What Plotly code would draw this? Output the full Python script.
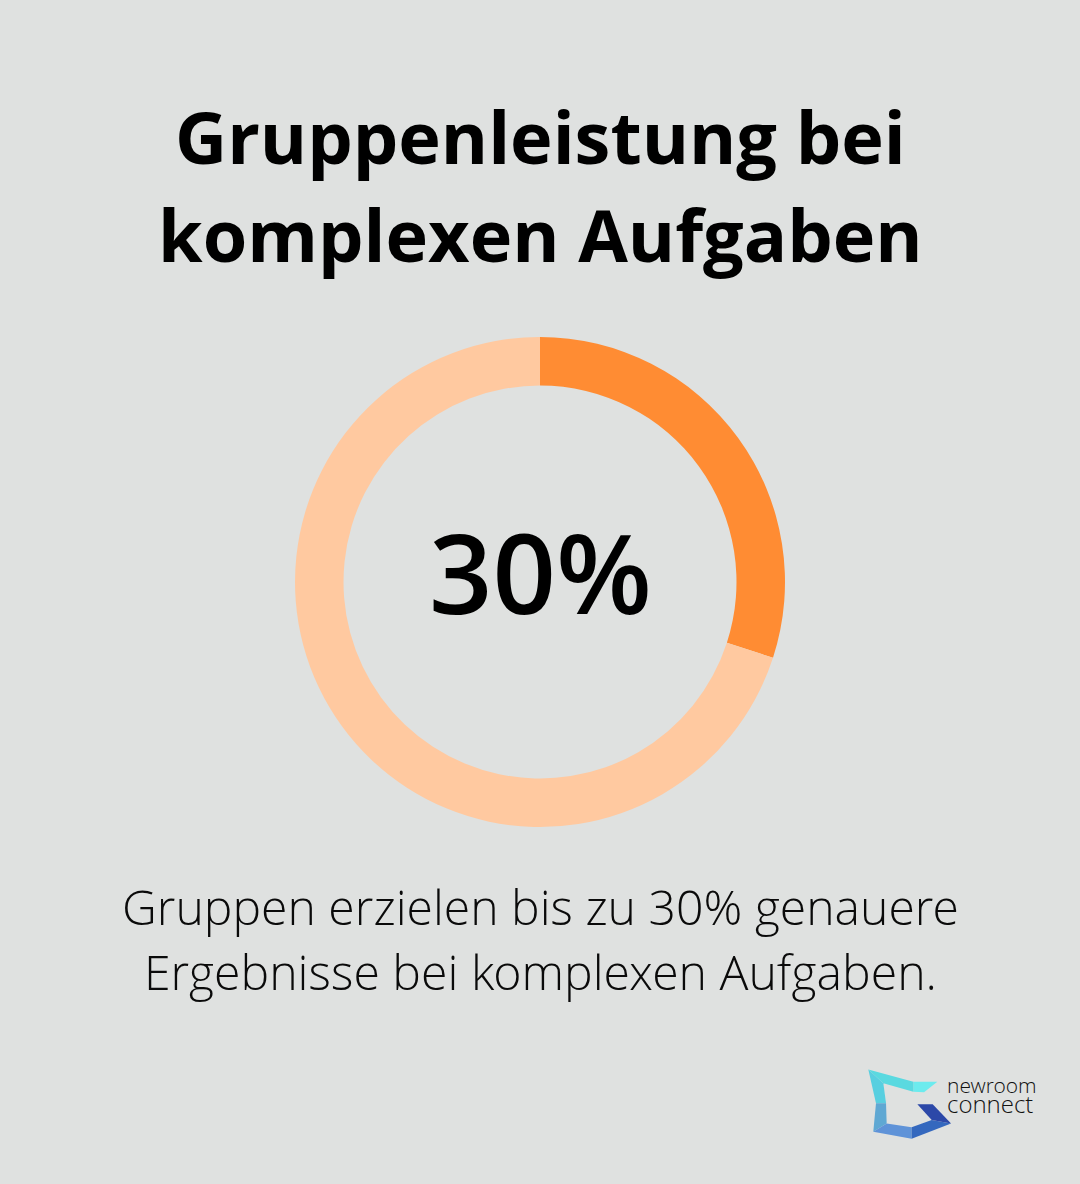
import plotly.graph_objects as go

labels = ["Genauere Ergebnisse", "Rest"]
values = [30, 70]
colors = ["#FF8C33", "#FFC9A0"]
title_lines = ["Gruppenleistung bei", "komplexen Aufgaben"]
center = "30%"
caption = ["Gruppen erzielen bis zu 30% genauere", "Ergebnisse bei komplexen Aufgaben."]
W, H = 1080, 1184

fig = go.Figure(go.Pie(labels=labels, values=values, hole=0.802, sort=False, direction="clockwise",
    rotation=0, marker=dict(colors=colors, line=dict(width=0)), textinfo="none", showlegend=False,
    domain=dict(x=[295/W, 785/W], y=[1-827/H, 1-337/H])))

def txt(s, x, y, size, fam, color="#000000", anchor="center", weight=None):
    f = dict(size=size, family=fam, color=color)
    if weight:
        f["weight"] = weight
    fig.add_annotation(text=s, x=x/W, y=1-y/H, xref="paper", yref="paper", showarrow=False,
        font=f, xanchor=anchor, yanchor="middle")

bold = "Open Sans"
txt("<b>%s</b>" % title_lines[0], 540, 136, 72, bold)
txt("<b>%s</b>" % title_lines[1], 540, 234, 72, bold)
txt(center, 540, 571, 111, "Open Sans", weight=600)
txt(caption[0], 540, 906, 48.1, "Open Sans Light, Open Sans", "#0A0A0A", weight=300)
txt(caption[1], 540, 971, 48.2, "Open Sans Light, Open Sans", "#0A0A0A", weight=300)
txt("newroom", 945, 1085, 21, "Open Sans Light, Open Sans", "#111111", "left", weight=300)
txt("connect", 945, 1103, 24, "Open Sans Light, Open Sans", "#111111", "left", weight=300)

def poly(pts, color):
    path = "M " + " L ".join(f"{(850+x/3)/W:.4f},{1-(1050+y/3)/H:.4f}" for x, y in pts) + " Z"
    fig.add_shape(type="path", path=path, xref="paper", yref="paper", fillcolor=color, line_width=0)

poly([(190,95),(262,95),(222,127),(190,125)], "#6CEBEE")
poly([(55,58),(190,95),(190,125),(100,100)], "#5AD9E0")
poly([(55,58),(100,100),(108,160),(78,160)], "#58CFE0")
poly([(78,160),(108,160),(110,220),(70,245)], "#5FA8D3")
poly([(70,245),(110,220),(185,232),(185,266)], "#5F93D8")
poly([(185,232),(245,210),(303,220),(185,266)], "#3468BE")
poly([(202,163),(248,163),(303,220),(245,210)], "#2C48A8")

fig.update_layout(width=W, height=H, margin=dict(l=0, r=0, t=0, b=0),
    paper_bgcolor="#DFE1E0", plot_bgcolor="#DFE1E0", autosize=False)
fig.write_html("out.html", config=dict(displayModeBar=False),
    post_script="document.body.style.margin='0';document.body.style.background='#DFE1E0';")
